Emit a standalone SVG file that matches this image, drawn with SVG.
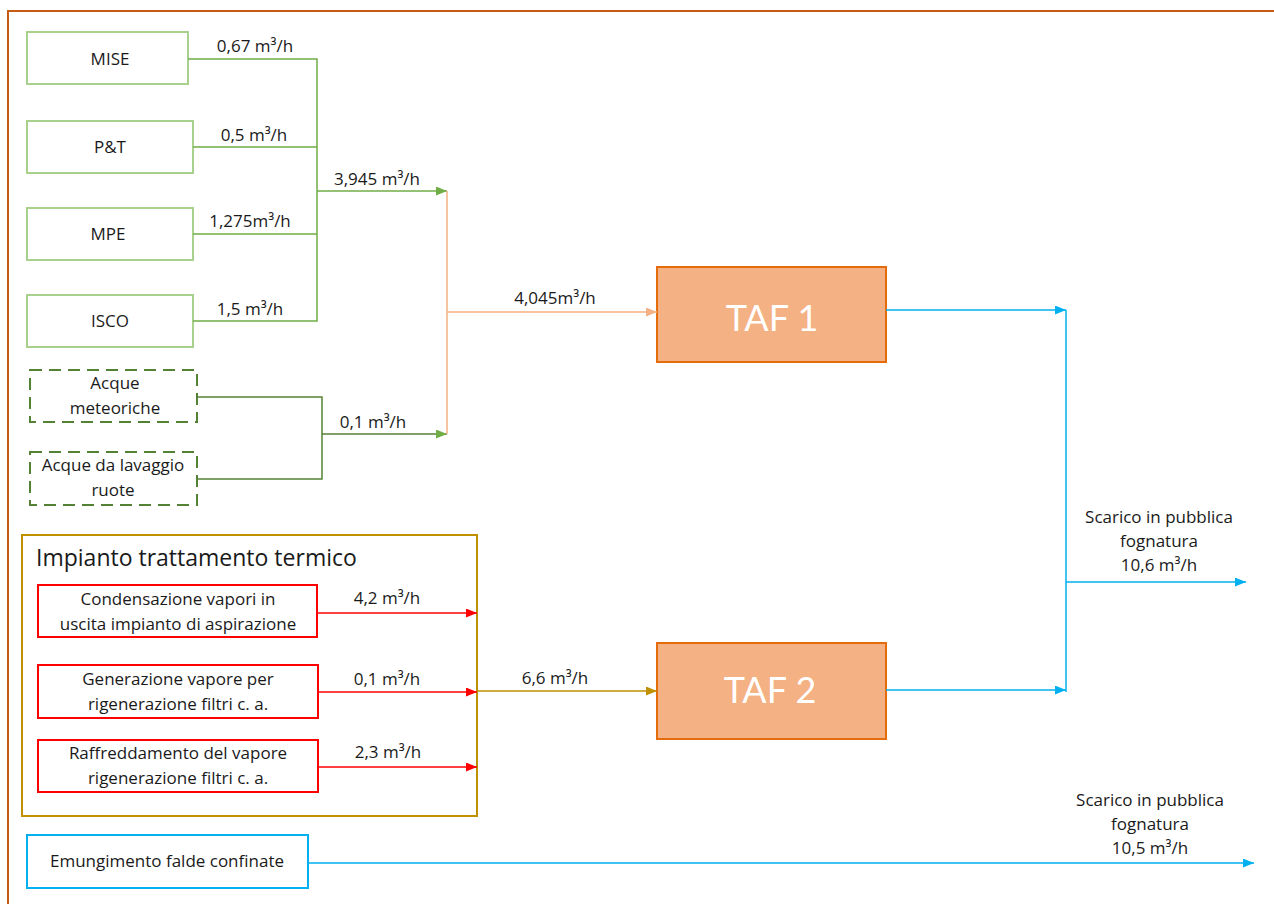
<svg xmlns="http://www.w3.org/2000/svg" width="1274" height="904" viewBox="0 0 1274 904">
<defs>
<marker id="ag" markerWidth="11" markerHeight="9" refX="11" refY="4.5" orient="auto" markerUnits="userSpaceOnUse"><path d="M0,0 L11,4.5 L0,9 Z" fill="#70AD47"/></marker>
<marker id="ap" markerWidth="11" markerHeight="9" refX="11" refY="4.5" orient="auto" markerUnits="userSpaceOnUse"><path d="M0,0 L11,4.5 L0,9 Z" fill="#F4B183"/></marker>
<marker id="ar" markerWidth="11" markerHeight="9" refX="11" refY="4.5" orient="auto" markerUnits="userSpaceOnUse"><path d="M0,0 L11,4.5 L0,9 Z" fill="#FF0000"/></marker>
<marker id="ay" markerWidth="11" markerHeight="9" refX="11" refY="4.5" orient="auto" markerUnits="userSpaceOnUse"><path d="M0,0 L11,4.5 L0,9 Z" fill="#BF9000"/></marker>
<marker id="ab" markerWidth="11" markerHeight="9" refX="11" refY="4.5" orient="auto" markerUnits="userSpaceOnUse"><path d="M0,0 L11,4.5 L0,9 Z" fill="#00B0F0"/></marker>
</defs>
<style>
text{font-family:"Open Sans","Lato","Liberation Sans",sans-serif;fill:#1a1a1a;font-size:17px;text-anchor:middle}
.gbox{fill:#fff;stroke:#A9D18E;stroke-width:2}
.dbox{fill:#fff;stroke:#548235;stroke-width:2;stroke-dasharray:12 7}
.rbox{fill:#fff;stroke:#FF0000;stroke-width:2}
.taf{fill:#F4B183;stroke:#E46C0A;stroke-width:2}
.taft{fill:#fff;font-size:36px;font-family:"Lato","Open Sans",sans-serif}
.g{stroke:#70AD47;stroke-width:1.5;fill:none}
.dg{stroke:#548235;stroke-width:1.5;fill:none}
.p{stroke:#F4B183;stroke-width:1.5;fill:none}
.r{stroke:#FF0000;stroke-width:1.5;fill:none}
.y{stroke:#BF9000;stroke-width:1.5;fill:none}
.b{stroke:#00B0F0;stroke-width:1.5;fill:none}
</style>
<rect width="1274" height="904" fill="#fff"/>
<rect id="frame" x="8" y="11" width="1300" height="920" fill="none" stroke="#C55A11" stroke-width="2"/>

<g id="mise"><rect class="gbox" x="27" y="32" width="161" height="52"/><text x="110" y="65">MISE</text></g>
<g id="pt"><rect class="gbox" x="27" y="121" width="166" height="52"/><text x="110" y="153">P&amp;T</text></g>
<g id="mpe"><rect class="gbox" x="27" y="208" width="166" height="52"/><text x="108" y="240">MPE</text></g>
<g id="isco"><rect class="gbox" x="27" y="295" width="166" height="52"/><text x="110" y="327">ISCO</text></g>
<g id="meteoriche"><rect class="dbox" x="30" y="370" width="167" height="52"/><text x="115" y="389">Acque</text><text x="115" y="414">meteoriche</text></g>
<g id="lavaggio"><rect class="dbox" x="30" y="452" width="167" height="53"/><text x="113" y="471">Acque da lavaggio</text><text x="113" y="496">ruote</text></g>

<g id="taf1"><rect class="taf" x="657" y="267" width="229" height="95"/><text class="taft" x="772" y="331">TAF 1</text></g>
<g id="taf2"><rect class="taf" x="657" y="643" width="229" height="96"/><text class="taft" x="770" y="703">TAF 2</text></g>

<g id="impianto">
<rect x="22" y="535" width="455" height="281" fill="none" stroke="#BF9000" stroke-width="2"/>
<text x="36" y="566" style="text-anchor:start;font-size:23px">Impianto trattamento termico</text>
</g>
<g id="condensazione"><rect class="rbox" x="38" y="585" width="279" height="52"/><text x="178" y="605">Condensazione vapori in</text><text x="178" y="630">uscita impianto di aspirazione</text></g>
<g id="generazione"><rect class="rbox" x="38" y="665" width="280" height="53"/><text x="178" y="685">Generazione vapore per</text><text x="178" y="710">rigenerazione filtri c. a.</text></g>
<g id="raffreddamento"><rect class="rbox" x="38" y="740" width="280" height="52"/><text x="178" y="759">Raffreddamento del vapore</text><text x="178" y="784">rigenerazione filtri c. a.</text></g>

<g id="emungimento"><rect x="27" y="835" width="281" height="53" fill="#fff" stroke="#00B0F0" stroke-width="2"/><text x="167" y="867">Emungimento falde confinate</text></g>

<g id="connectors">
<path class="g" d="M188,59 H317 V321 H193 M193,147 H317 M193,234 H317"/>
<path class="g" d="M317,191 H447" marker-end="url(#ag)"/>
<path class="dg" d="M197,397 H322 V479 H197"/>
<path class="dg" d="M322,434 H447" marker-end="url(#ag)"/>
<path class="p" d="M447,191 V434"/>
<path class="p" d="M447,312 H657" marker-end="url(#ap)"/>
<path class="r" d="M318,613 H477" marker-end="url(#ar)"/>
<path class="r" d="M318,692 H477" marker-end="url(#ar)"/>
<path class="r" d="M318,767 H477" marker-end="url(#ar)"/>
<path class="y" d="M477,691 H657" marker-end="url(#ay)"/>
<path class="b" d="M886,310 H1066" marker-end="url(#ab)"/>
<path class="b" d="M886,690 H1066" marker-end="url(#ab)"/>
<path class="b" d="M1066,310 V692"/>
<path class="b" d="M1066,582 H1246" marker-end="url(#ab)"/>
<path class="b" d="M308,863 H1254" marker-end="url(#ab)"/>
</g>

<g id="labels">
<text x="255" y="52">0,67 m³/h</text>
<text x="254" y="141">0,5 m³/h</text>
<text x="250" y="227">1,275m³/h</text>
<text x="250" y="315">1,5 m³/h</text>
<text x="377" y="185">3,945 m³/h</text>
<text x="373" y="428">0,1 m³/h</text>
<text x="555" y="304">4,045m³/h</text>
<text x="387" y="604">4,2 m³/h</text>
<text x="387" y="685">0,1 m³/h</text>
<text x="388" y="758">2,3 m³/h</text>
<text x="555" y="684">6,6 m³/h</text>
<text x="1159" y="523">Scarico in pubblica</text>
<text x="1159" y="547">fognatura</text>
<text x="1159" y="571">10,6 m³/h</text>
<text x="1150" y="806">Scarico in pubblica</text>
<text x="1150" y="830">fognatura</text>
<text x="1150" y="854">10,5 m³/h</text>
</g>
</svg>
